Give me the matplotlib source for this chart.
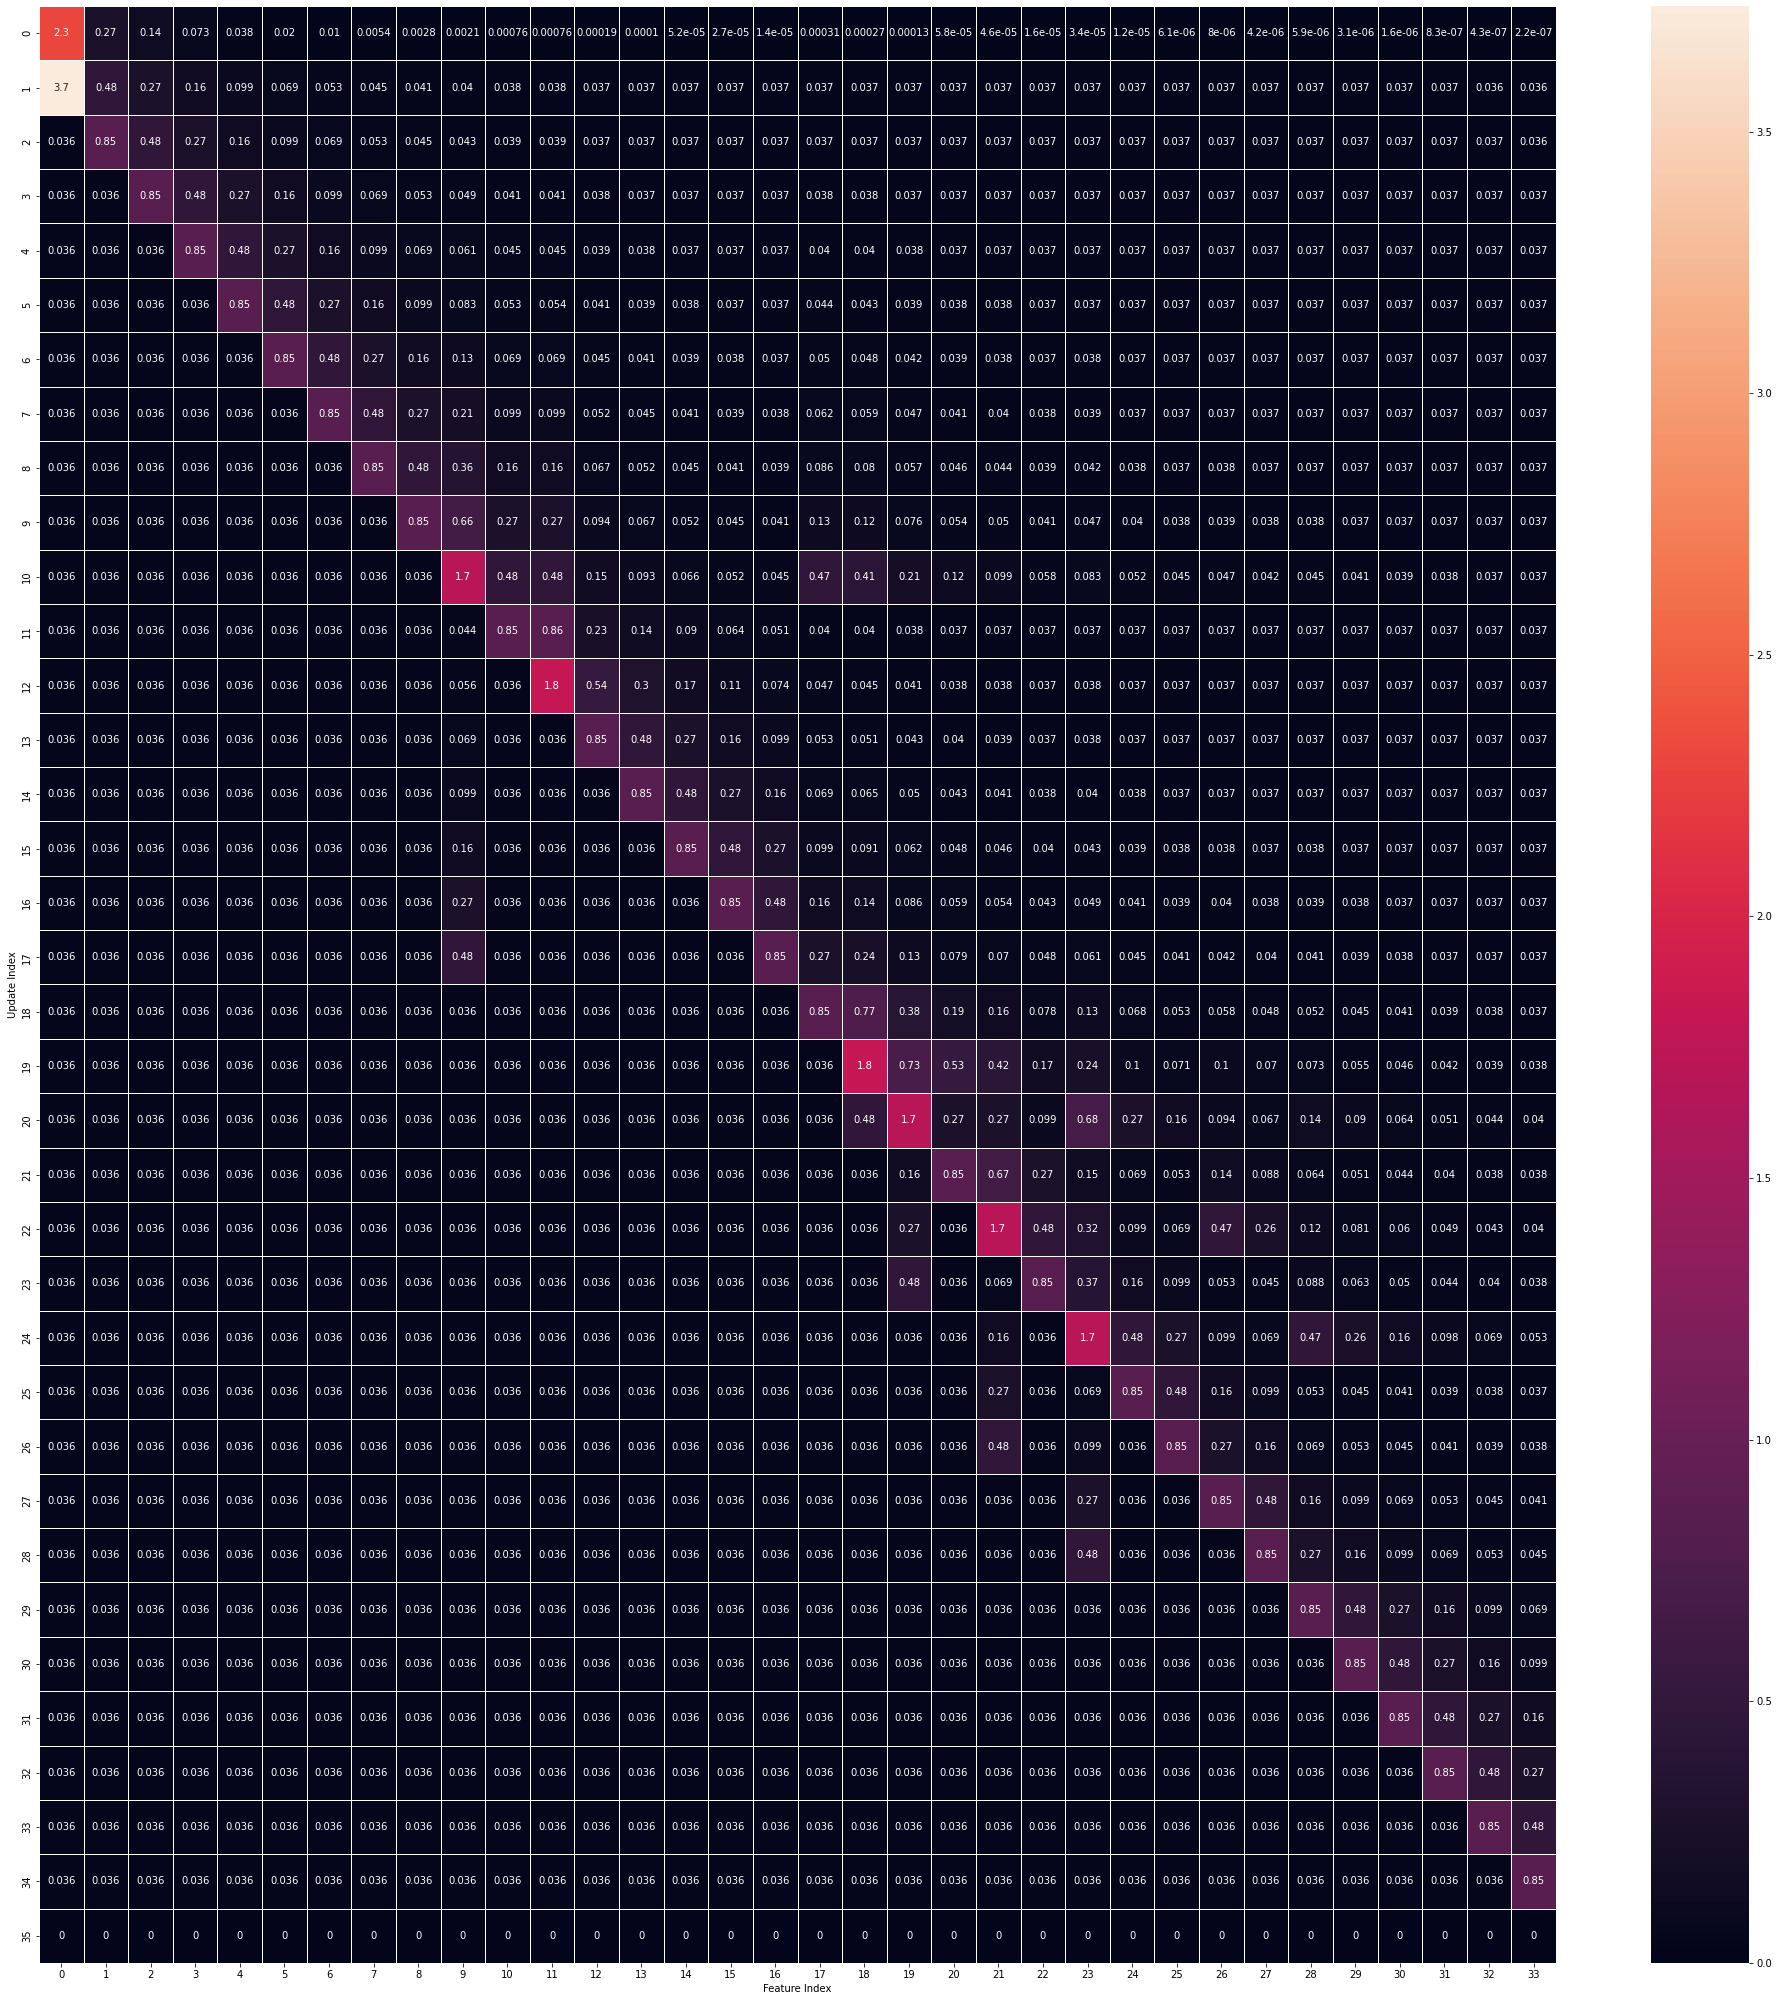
import matplotlib
matplotlib.use("Agg")
import matplotlib.pyplot as plt
import numpy as np
import seaborn as sns

# Feature / update indices
feature_idx = list(range(34))
update_idx = list(range(36))

B = 0.036  # background value seen in most cells

row00 = [2.3, 0.27, 0.14, 0.073, 0.038, 0.02, 0.01, 0.0054, 0.0028, 0.0021, 0.00076, 0.00076,
         0.00019, 0.0001, 5.2e-05, 2.7e-05, 1.4e-05, 0.00031, 0.00027, 0.00013, 5.8e-05, 4.6e-05, 1.6e-05,
         3.4e-05, 1.2e-05, 6.1e-06, 8e-06, 4.2e-06, 5.9e-06, 3.1e-06, 1.6e-06, 8.3e-07, 4.3e-07, 2.2e-07]
# first cell read as 3.7 on the label, ~3.74 from the colorbar top
row01 = [3.74, 0.48, 0.27, 0.16, 0.099, 0.069, 0.053, 0.045, 0.041, 0.04, 0.038, 0.038] + [0.037] * 20 + [0.036, 0.036]
row02 = [B, 0.85, 0.48, 0.27, 0.16, 0.099, 0.069, 0.053, 0.045, 0.043, 0.039, 0.039] + [0.037] * 21 + [0.036]
row03 = [B, B, 0.85, 0.48, 0.27, 0.16, 0.099, 0.069, 0.053, 0.049, 0.041, 0.041,
         0.038, 0.037, 0.037, 0.037, 0.037, 0.038, 0.038, 0.037, 0.037, 0.037, 0.037] + [0.037] * 11
row04 = [B] * 3 + [0.85, 0.48, 0.27, 0.16, 0.099, 0.069, 0.061, 0.045, 0.045,
                   0.039, 0.038, 0.037, 0.037, 0.037, 0.04, 0.04, 0.038, 0.037, 0.037, 0.037] + [0.037] * 11
row05 = [B] * 4 + [0.85, 0.48, 0.27, 0.16, 0.099, 0.083, 0.053, 0.054,
                   0.041, 0.039, 0.038, 0.037, 0.037, 0.044, 0.043, 0.039, 0.038, 0.038, 0.037] + [0.037] * 11
row06 = [B] * 5 + [0.85, 0.48, 0.27, 0.16, 0.13, 0.069, 0.069,
                   0.045, 0.041, 0.039, 0.038, 0.037, 0.05, 0.048, 0.042, 0.039, 0.038, 0.037,
                   0.038] + [0.037] * 10
row07 = [B] * 6 + [0.85, 0.48, 0.27, 0.21, 0.099, 0.099,
                   0.052, 0.045, 0.041, 0.039, 0.038, 0.062, 0.059, 0.047, 0.041, 0.04, 0.038,
                   0.039] + [0.037] * 10
row08 = [B] * 7 + [0.85, 0.48, 0.36, 0.16, 0.16,
                   0.067, 0.052, 0.045, 0.041, 0.039, 0.086, 0.08, 0.057, 0.046, 0.044, 0.039,
                   0.042, 0.038, 0.037, 0.038] + [0.037] * 7
row09 = [B] * 8 + [0.85, 0.66, 0.27, 0.27,
                   0.094, 0.067, 0.052, 0.045, 0.041, 0.13, 0.12, 0.076, 0.054, 0.05, 0.041,
                   0.047, 0.04, 0.038, 0.039, 0.038, 0.038] + [0.037] * 5
row10 = [B] * 9 + [1.7, 0.48, 0.48,
                   0.15, 0.093, 0.066, 0.052, 0.045, 0.47, 0.41, 0.21, 0.12, 0.099, 0.058,
                   0.083, 0.052, 0.045, 0.047, 0.042, 0.045, 0.041, 0.039, 0.038, 0.037, 0.037]
row11 = [B] * 9 + [0.044, 0.85, 0.86,
                   0.23, 0.14, 0.09, 0.064, 0.051, 0.04, 0.04, 0.038, 0.037, 0.037, 0.037] + [0.037] * 11
row12 = [B] * 9 + [0.056, B, 1.8,
                   0.54, 0.3, 0.17, 0.11, 0.074, 0.047, 0.045, 0.041, 0.038, 0.038, 0.037,
                   0.038] + [0.037] * 10
row13 = [B] * 9 + [0.069, B, B,
                   0.85, 0.48, 0.27, 0.16, 0.099, 0.053, 0.051, 0.043, 0.04, 0.039, 0.037,
                   0.038] + [0.037] * 10
row14 = [B] * 9 + [0.099, B, B,
                   B, 0.85, 0.48, 0.27, 0.16, 0.069, 0.065, 0.05, 0.043, 0.041, 0.038,
                   0.04, 0.038] + [0.037] * 9
row15 = [B] * 9 + [0.16, B, B,
                   B, B, 0.85, 0.48, 0.27, 0.099, 0.091, 0.062, 0.048, 0.046, 0.04,
                   0.043, 0.039, 0.038, 0.038, 0.037, 0.038] + [0.037] * 5
row16 = [B] * 9 + [0.27, B, B,
                   B, B, B, 0.85, 0.48, 0.16, 0.14, 0.086, 0.059, 0.054, 0.043,
                   0.049, 0.041, 0.039, 0.04, 0.038, 0.039, 0.038] + [0.037] * 4
row17 = [B] * 9 + [0.48, B, B,
                   B, B, B, B, 0.85, 0.27, 0.24, 0.13, 0.079, 0.07, 0.048,
                   0.061, 0.045, 0.041, 0.042, 0.04, 0.041, 0.039, 0.038, 0.037, 0.037, 0.037]
row18 = [B] * 17 + [0.85, 0.77, 0.38, 0.19, 0.16, 0.078,
                    0.13, 0.068, 0.053, 0.058, 0.048, 0.052, 0.045, 0.041, 0.039, 0.038, 0.037]
row19 = [B] * 18 + [1.8, 0.73, 0.53, 0.42, 0.17,
                    0.24, 0.1, 0.071, 0.1, 0.07, 0.073, 0.055, 0.046, 0.042, 0.039, 0.038]
row20 = [B] * 18 + [0.48, 1.7, 0.27, 0.27, 0.099,
                    0.68, 0.27, 0.16, 0.094, 0.067, 0.14, 0.09, 0.064, 0.051, 0.044, 0.04]
row21 = [B] * 19 + [0.16, 0.85, 0.67, 0.27,
                    0.15, 0.069, 0.053, 0.14, 0.088, 0.064, 0.051, 0.044, 0.04, 0.038, 0.038]
row22 = [B] * 19 + [0.27, B, 1.7, 0.48,
                    0.32, 0.099, 0.069, 0.47, 0.26, 0.12, 0.081, 0.06, 0.049, 0.043, 0.04]
row23 = [B] * 19 + [0.48, B, 0.069, 0.85,
                    0.37, 0.16, 0.099, 0.053, 0.045, 0.088, 0.063, 0.05, 0.044, 0.04, 0.038]
row24 = [B] * 21 + [0.16, B,
                    1.7, 0.48, 0.27, 0.099, 0.069, 0.47, 0.26, 0.16, 0.098, 0.069, 0.053]
row25 = [B] * 21 + [0.27, B,
                    0.069, 0.85, 0.48, 0.16, 0.099, 0.053, 0.045, 0.041, 0.039, 0.038, 0.037]
row26 = [B] * 21 + [0.48, B,
                    0.099, B, 0.85, 0.27, 0.16, 0.069, 0.053, 0.045, 0.041, 0.039, 0.038]
row27 = [B] * 23 + [0.27, B, B, 0.85, 0.48, 0.16, 0.099, 0.069, 0.053, 0.045, 0.041]
row28 = [B] * 23 + [0.48, B, B, B, 0.85, 0.27, 0.16, 0.099, 0.069, 0.053, 0.045]
row29 = [B] * 28 + [0.85, 0.48, 0.27, 0.16, 0.099, 0.069]
row30 = [B] * 29 + [0.85, 0.48, 0.27, 0.16, 0.099]
row31 = [B] * 30 + [0.85, 0.48, 0.27, 0.16]
row32 = [B] * 31 + [0.85, 0.48, 0.27]
row33 = [B] * 32 + [0.85, 0.48]
row34 = [B] * 33 + [0.85]
row35 = [0] * 34

rows = [row00, row01, row02, row03, row04, row05, row06, row07, row08, row09,
        row10, row11, row12, row13, row14, row15, row16, row17, row18, row19,
        row20, row21, row22, row23, row24, row25, row26, row27, row28, row29,
        row30, row31, row32, row33, row34, row35]
data = np.array(rows, dtype=float)

W, H = 1778, 2002
fig = plt.figure(figsize=(W / 72, H / 72), dpi=72)
ax = fig.add_axes([39 / W, 1 - 1963 / H, (1556 - 39) / W, (1963 - 6) / H])
cax = fig.add_axes([1651 / W, 1 - 1963 / H, 98 / W, (1963 - 6) / H])

sns.heatmap(data, annot=True, fmt=".2g", cmap="rocket", linewidths=1, linecolor="white",
            xticklabels=feature_idx, yticklabels=update_idx, ax=ax, cbar_ax=cax,
            annot_kws={"fontsize": 10})
ax.set_xlabel("Feature Index", fontsize=10)
ax.set_ylabel("Update Index", fontsize=10)
ax.tick_params(axis="both", labelsize=10)
plt.setp(ax.get_yticklabels(), rotation=90, va="center")
plt.setp(ax.get_xticklabels(), rotation=0)
cax.tick_params(labelsize=10)
cax.set_yticks([0.0, 0.5, 1.0, 1.5, 2.0, 2.5, 3.0, 3.5])

fig.savefig("out.png", dpi=72)
